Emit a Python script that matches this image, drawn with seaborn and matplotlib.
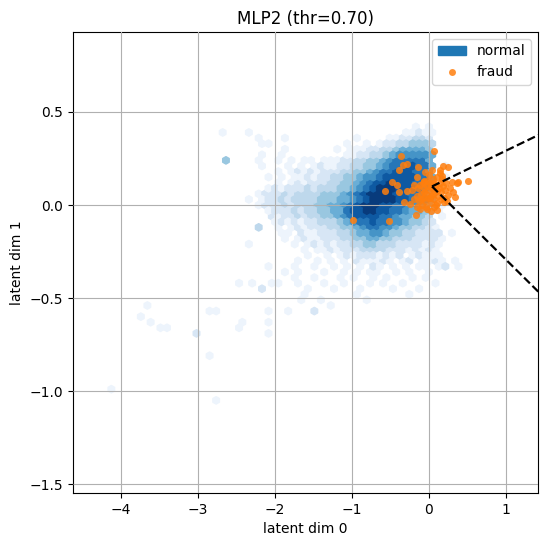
import numpy as np
import matplotlib
matplotlib.use("Agg")
import matplotlib.pyplot as plt
import seaborn as sns
import pandas as pd
from matplotlib.patches import Patch
from matplotlib.lines import Line2D

# ---------------- data ----------------
title = "MLP2 (thr=0.70)"
xlabel = "latent dim 0"
ylabel = "latent dim 1"
x_ticks = [-4, -3, -2, -1, 0, 1]
y_ticks = [-1.5, -1.0, -0.5, 0.0, 0.5]

# density of the "normal" latent codes, read as levels (1-9) on the hex lattice.
# each entry: (first column, levels); rows start at y=0.42 and step 0.03 down,
# column c sits at x = -2.295 + 0.085*c (half a step more on odd lattice rows)
dens_x0, dens_dx, dens_ytop, dens_dy = -2.295, 0.085, 0.42, 0.03
density_rows = [
    (25, "1.1"),
    (23, "11211"),
    (1, "1...1..........1....1122332"),
    (1, "11...........1..1.122334443"),
    (5, "1.......1.1112233455554"),
    (1, "1..1.........11223345666665"),
    (1, "1..1.1.11.11122334456777775"),
    (1, "1...1.1.1211223344567788775.1"),
    (4, "1.1212122233445677888775"),
    (2, "1.1.1121223344566788888775 1".replace(" ", ".")),
    (4, "1.1212223344567889888775.1"),
    (2, "12122232333445678999888765"),
    (1, "1222323333444567899998877641"),
    (1, "122323333444556789999887664"),
    (1, "122232333445567899988776654.1"),
    (2, "122232334455788998877655431"),
    (3, "2122323344567888877655443.1"),
    (3, "1212122333456778776654432"),
    (1, "3..1.12122233445677665443321"),
    (4, "11.2112223345566544332222.1"),
    (5, "1.12112223344554433322221"),
    (6, "1.121212233443332222121"),
    (8, "1.1121222333322212121"),
    (8, "1..1.1212221212.12111"),
    (7, "1..1.1.1.211121.12.1121.1"),
    (2, "1...1..1..1.1.1.21.1.1.11.12.1"),
    (5, "1.1...1..1.1.11..1.1..1"),
    (6, "1..1...1.1..1.1...1.1"),
    (3, "11..1...1..1...1.1..1....1"),
    (1, "2......1...1...1....1...1"),
    (8, "1.......1.......1"),
    (7, "1..1......1"),
    (12, "1"),
    (2, "1..1...2"),
]

# isolated hex cells far from the main cloud: x, y, level
outlier_x = [-2.66, -2.69, -2.37, -2.36, -2.37, -2.49, -2.32, -2.42, -2.45,
             -2.87, -2.78, -3.00, -3.67, -3.71, -3.58, -3.50, -3.37, -2.82,
             -2.79, -4.13, -2.07, -2.06]
outlier_y = [0.236, 0.385, 0.385, 0.04, -0.22, -0.42, -0.42, -0.63, -0.656,
             -0.57, -0.57, -0.675, -0.545, -0.61, -0.63, -0.675, -0.656, -0.81,
             -1.045, -1.0, -0.675, -0.63]
outlier_lv = [4, 1, 1, 1, 1, 1, 1, 1, 1,
              1, 1, 2, 1, 1, 1, 1, 1, 1,
              1, 1, 1, 1]

# fraud points
fraud_x = [-0.36, -0.34, -0.28, -0.385, -0.14, 0.07, -0.48, -0.42, -0.57, -0.385,
           -0.16, -0.28, -0.33, -0.25, -0.17, -0.515, -0.98, -0.06, 0.035, -0.05,
           0.186, 0.25, 0.14, 0.165, 0.38, 0.51, 0.30, 0.315, 0.25, 0.27,
           0.10, 0.20, -0.15, -0.04, 0.013, 0.36, 0.34,
           -0.16, -0.14, -0.13, -0.11, -0.10, -0.09, -0.08, -0.07, -0.06, -0.05,
           -0.04, -0.03, -0.02, -0.01, 0.0, 0.01, 0.02, 0.03, 0.04, 0.05,
           0.06, 0.07, 0.08, 0.09, 0.10, 0.11, 0.12, 0.13, 0.14, 0.15,
           0.16, 0.18, 0.19, 0.21, 0.22, 0.24, 0.03, -0.08, 0.0, 0.07,
           -0.12, 0.09, 0.17, -0.02, 0.05, -0.06, 0.11, 0.02, -0.10, 0.14,
           -0.20, -0.22, -0.19]
fraud_y = [0.263, 0.214, 0.223, 0.186, 0.204, 0.29, 0.124, 0.106, 0.074, 0.07,
           0.15, 0.073, 0.018, 0.007, -0.054, -0.085, -0.08, 0.125, 0.188, 0.179,
           0.209, 0.204, 0.19, 0.155, 0.122, 0.129, 0.125, 0.071, 0.054, 0.09,
           -0.027, 0.018, -0.009, -0.009, 0.036, 0.116, 0.045,
           0.05, 0.09, 0.02, 0.11, 0.06, 0.0, 0.04, 0.09, 0.13, 0.02,
           0.06, 0.10, -0.02, 0.04, 0.08, 0.12, 0.01, 0.05, 0.09, 0.14,
           -0.01, 0.03, 0.07, 0.11, 0.15, 0.01, 0.05, 0.09, 0.12, 0.03,
           0.07, 0.10, 0.04, 0.08, 0.12, 0.02, -0.03, 0.12, 0.16, 0.12,
           -0.02, 0.0, 0.14, 0.13, 0.06, 0.07, 0.08, 0.10, 0.03, 0.17,
           0.03, 0.08, 0.11]

# decision boundary rays
bound_upper_x = [0.04, 1.6]
bound_upper_y = [0.10, 0.412]
bound_lower_x = [0.04, 1.6]
bound_lower_y = [0.10, -0.54]

# ---------------- build table for hexbin ----------------
hx, hy, hv = [], [], []
for k, (start, row) in enumerate(density_rows):
    y = dens_ytop - k * dens_dy
    r = int(round((y + 1.2) / 0.03))
    shift = 0.5 * dens_dx if r % 2 == 1 else 0.0
    for j, ch in enumerate(row):
        if ch.isdigit() and ch != "0":
            c = start + j
            hx.append(dens_x0 + c * dens_dx + shift)
            hy.append(y)
            hv.append(int(ch))
hx += outlier_x
hy += outlier_y
hv += outlier_lv
normal = pd.DataFrame({"x": hx, "y": hy, "level": hv})
fraud = pd.DataFrame({"x": fraud_x, "y": fraud_y})

# ---------------- plot ----------------
fig = plt.figure(figsize=(5.47, 5.47), dpi=100)
ax = fig.add_axes([0.1335, 0.0987, 0.85, 0.8428])

ax.hexbin(normal["x"], normal["y"], C=normal["level"], reduce_C_function=np.max,
          gridsize=(60, 30), extent=(-4.25, 0.85, -1.2, 0.6),
          cmap="Blues", vmin=0.55, vmax=9.4, zorder=1)

sns.scatterplot(data=fraud, x="x", y="y", color="#ff7f0e", alpha=0.85, s=26,
                linewidth=0, ax=ax, zorder=3)

sns.lineplot(x=bound_upper_x, y=bound_upper_y, color="black", linestyle="--",
             linewidth=1.6, ax=ax, zorder=4)
sns.lineplot(x=bound_lower_x, y=bound_lower_y, color="black", linestyle="--",
             linewidth=1.6, ax=ax, zorder=4)

ax.grid(True, color="#b0b0b0", linewidth=0.8, zorder=2)
ax.set_axisbelow(False)
ax.set_xlim(-4.62, 1.415)
ax.set_ylim(-1.548, 0.93)
ax.set_xticks(x_ticks)
ax.set_yticks(y_ticks)
ax.set_title(title, fontsize=12)
ax.set_xlabel(xlabel, fontsize=10)
ax.set_ylabel(ylabel, fontsize=10)

handles = [Patch(facecolor="#1f77b4", edgecolor="#1f77b4", label="normal"),
           Line2D([], [], marker="o", linestyle="", color="#ff7f0e", alpha=0.85,
                  markersize=5, markeredgewidth=0, label="fraud")]
ax.legend(handles=handles, loc="upper right", fontsize=10)

fig.savefig("out.png", dpi=100)
